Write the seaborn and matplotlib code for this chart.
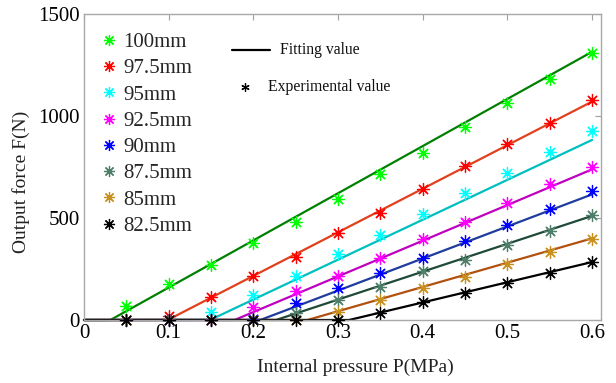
import numpy as np
import pandas as pd
import matplotlib
matplotlib.use("Agg")
import matplotlib.pyplot as plt
from matplotlib.lines import Line2D
import seaborn as sns

# Internal pressure steps (MPa)
pressure = [0.05, 0.10, 0.15, 0.20, 0.25, 0.30, 0.35, 0.40, 0.45, 0.50, 0.55, 0.60]

# Series labels (actuator length)
series = ["100mm", "97.5mm", "95mm", "92.5mm", "90mm", "87.5mm", "85mm", "82.5mm"]

# Measured output force (N) for each series
force_100 = [69, 178, 270, 378, 478, 595, 714, 820, 946, 1066, 1180, 1307]
force_97_5 = [0, 20, 111, 216, 310, 425, 526, 640, 756, 862, 967, 1078]
force_95 = [0, 0, 41, 123, 216, 322, 417, 521, 621, 719, 822, 926]
force_92_5 = [0, 0, 0, 64, 144, 216, 306, 396, 480, 575, 667, 752]
force_90 = [0, 0, 0, 6, 85, 155, 229, 306, 385, 468, 542, 632]
force_87_5 = [0, 0, 0, 0, 36, 98, 163, 240, 294, 368, 438, 513]
force_85 = [0, 0, 0, 0, 0, 41, 98, 155, 212, 275, 332, 396]
force_82_5 = [0, 0, 0, 0, 0, 0, 33, 86, 131, 180, 232, 284]
measured = [force_100, force_97_5, force_95, force_92_5,
            force_90, force_87_5, force_85, force_82_5]

# Linear fit F = k * P + b (N/MPa, N), clipped at zero force
fit_slope = [2311, 2136, 1956, 1749, 1571, 1367, 1190, 990]
fit_intercept = [-72, -211, -291, -311, -327, -310, -314, -310]

# Axis ticks
x_ticks = [0, 0.1, 0.2, 0.3, 0.4, 0.5, 0.6]
x_tick_labels = ["0", "0.1", "0.2", "0.3", "0.4", "0.5", "0.6"]
y_ticks = [0, 500, 1000, 1500]
y_tick_labels = ["0", "500", "1000", "1500"]

marker_colors = ["#00FF00", "#FF0000", "#00FFFF", "#FF00FF",
                 "#0000FF", "#4F7F6A", "#C8901E", "#000000"]
line_colors = ["#008000", "#E2401C", "#00BFBF", "#BF00BF",
               "#1F3C9C", "#1F4A38", "#B2500F", "#000000"]

sns.set_theme(style="white")
plt.rcParams["font.family"] = ["Liberation Serif", "DejaVu Serif"]

# Long-form tables for seaborn
pts = pd.DataFrame({
    "P": np.tile(pressure, len(series)),
    "F": np.concatenate(measured),
    "series": np.repeat(series, len(pressure)),
})
p_grid = np.linspace(0, 0.6, 601)
fit = pd.DataFrame({
    "P": np.tile(p_grid, len(series)),
    "F": np.concatenate([np.maximum(0, k * p_grid + b)
                         for k, b in zip(fit_slope, fit_intercept)]),
    "series": np.repeat(series, len(p_grid)),
})

fig = plt.figure(figsize=(6.16, 3.83), dpi=100)
ax = fig.add_axes([84 / 616, 1 - 320 / 383, 517 / 616, 306 / 383])

sns.lineplot(data=fit, x="P", y="F", hue="series", hue_order=series,
             palette=line_colors, linewidth=1.6, legend=False, ax=ax,
             clip_on=False, sort=False)

asterisk = (8, 2, 0)
for name, col in zip(series, marker_colors):
    sub = pts[pts["series"] == name]
    sns.scatterplot(data=sub, x="P", y="F", color=col, marker=asterisk,
                    s=75, linewidth=0.9, edgecolor=col, legend=False,
                    ax=ax, clip_on=False, zorder=3)

ax.set_xlim(0, 0.6106)
ax.set_ylim(0, 1500)
ax.set_xticks(x_ticks)
ax.set_xticklabels(x_tick_labels)
ax.set_yticks(y_ticks)
ax.set_yticklabels(y_tick_labels)
ax.tick_params(axis="both", direction="in", length=4, width=0.8,
               color="#A0A0A0", labelsize=15, labelcolor="black",
               top=True, right=True, pad=3)
for sp in ax.spines.values():
    sp.set_color("#A8A8A8")
    sp.set_linewidth(1.0)

ax.set_xlabel("Internal pressure P(MPa)", fontsize=14, color="#222222")
ax.set_ylabel("Output force F(N)", fontsize=14, color="#222222")
ax.xaxis.set_label_coords(0.524, -0.127)
ax.yaxis.set_label_coords(-0.105, 0.45)

# Series legend
handles = [Line2D([], [], linestyle="none", marker=asterisk, markersize=8,
                  markeredgewidth=0.9, color=c, markeredgecolor=c)
           for c in marker_colors]
ax.legend(handles, series, loc="upper left", bbox_to_anchor=(0.032, 0.939),
          frameon=False, fontsize=15, handlelength=0.8, handletextpad=0.3,
          labelspacing=0.32, borderpad=0, borderaxespad=0)

# Key for line vs. marker
def px(x, y):
    return x / 616, 1 - y / 383

x0, y0 = px(232, 50)
x1, _ = px(270, 50)
fig.add_artist(Line2D([x0, x1], [y0, y0], color="black", linewidth=1.6,
                      transform=fig.transFigure))
fig.text(*px(280, 50), "Fitting value", fontsize=11.3, va="center",
         ha="left", color="#111111")
mx, my = px(245, 87)
fig.add_artist(Line2D([mx], [my], marker=(6, 2, 0), markersize=6,
                      markeredgewidth=0.9, color="black",
                      transform=fig.transFigure))
fig.text(*px(268, 87), "Experimental value", fontsize=11.3, va="center",
         ha="left", color="#111111")

fig.savefig("out.png", dpi=100)
